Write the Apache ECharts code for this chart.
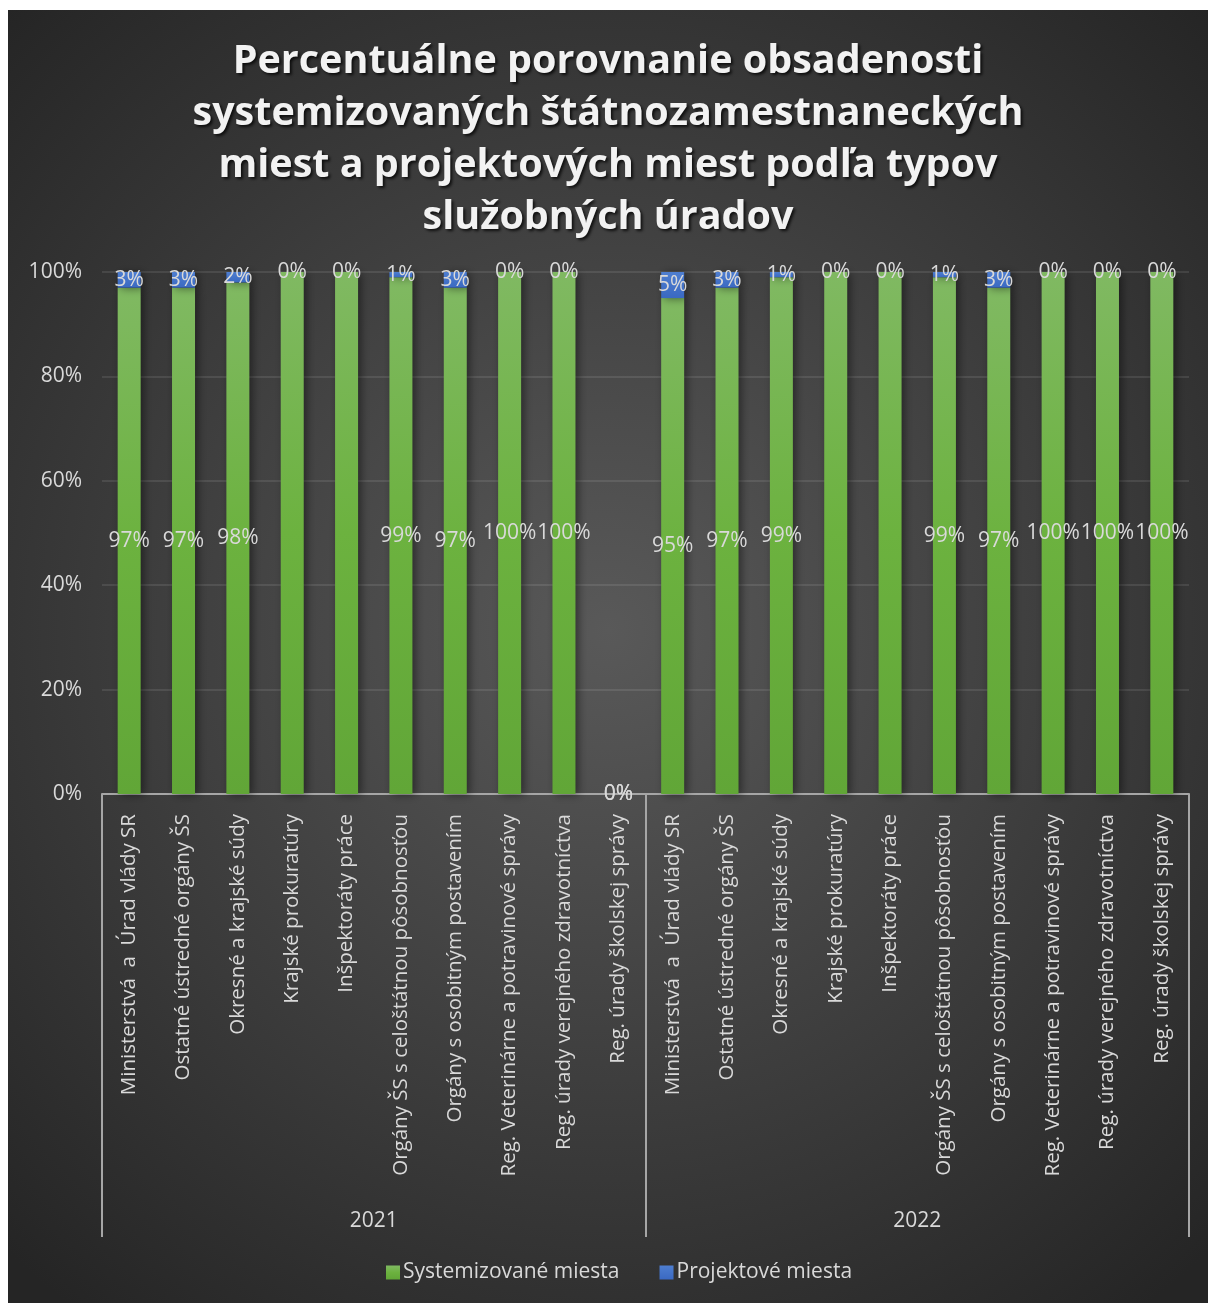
<!DOCTYPE html>
<html lang="sk">
<head>
<meta charset="utf-8">
<title>Obsadenosť miest podľa typov služobných úradov</title>
<script src="https://cdn.jsdelivr.net/npm/echarts@6/dist/echarts.min.js"></script>
<style>
  html, body { margin: 0; padding: 0; background: #ffffff; }
  #chart { position: absolute; left: 8px; top: 10px; width: 1200px; height: 1293px; }
</style>
</head>
<body>
<div id="chart"></div>
<script>
// Office types (same list for each year)
const officeTypes = [
  'Ministerstvá  a  Úrad vlády SR',
  'Ostatné ústredné orgány ŠS',
  'Okresné a krajské súdy',
  'Krajské prokuratúry',
  'Inšpektoráty práce',
  'Orgány ŠS s celoštátnou pôsobnosťou',
  'Orgány s osobitným postavením',
  'Reg. Veterinárne a potravinové správy',
  'Reg. úrady verejného zdravotníctva',
  'Reg. úrady školskej správy'
];
const years = ['2021', '2022'];

// Share of positions in %, per office type
const systemized2021 = [97, 97, 98, 100, 100, 99, 97, 100, 100, 0];
const project2021    = [3, 3, 2, 0, 0, 1, 3, 0, 0, 0];
const systemized2022 = [95, 97, 99, 100, 100, 99, 97, 100, 100, 100];
const project2022    = [5, 3, 1, 0, 0, 1, 3, 0, 0, 0];

// Office types whose systemized share carries no data label
const unlabeledSystemized = ['Krajské prokuratúry', 'Inšpektoráty práce'];

const yTicks = [0, 20, 40, 60, 80, 100];

const categories = years.flatMap(() => officeTypes);
const systemized = systemized2021.concat(systemized2022);
const project = project2021.concat(project2022);

const font = "'Open Sans', 'Noto Sans', sans-serif";
const labelColor = '#d9d9d9';

const systemizedData = systemized.map((v, i) => (
  unlabeledSystemized.includes(categories[i]) ? { value: v, label: { show: false } } : v
));

const barShadow = {
  shadowColor: 'rgba(0,0,0,0.45)',
  shadowBlur: 9,
  shadowOffsetX: 3,
  shadowOffsetY: 1
};

const chart = echarts.init(document.getElementById('chart'));
chart.setOption({
  backgroundColor: {
    type: 'radial', x: 0.5, y: 0.48, r: 0.72,
    colorStops: [
      { offset: 0, color: '#595959' },
      { offset: 1, color: '#252525' }
    ]
  },
  textStyle: { fontFamily: font },
  title: {
    text: 'Percentuálne porovnanie obsadenosti\nsystemizovaných štátnozamestnaneckých\nmiest a projektových miest podľa typov\nslužobných úradov',
    left: 'center',
    top: 21,
    textStyle: {
      fontFamily: font,
      fontSize: 39.5,
      fontWeight: 'bold',
      lineHeight: 52,
      color: '#f2f2f2',
      align: 'center',
      textShadowColor: 'rgba(0,0,0,0.75)',
      textShadowBlur: 3,
      textShadowOffsetX: 2,
      textShadowOffsetY: 2
    }
  },
  legend: {
    bottom: 15,
    left: 373,
    itemWidth: 14,
    itemHeight: 14,
    itemGap: 40,
    icon: 'rect',
    textStyle: { color: labelColor, fontSize: 21, fontFamily: font, padding: [0, 0, 0, -2] },
    data: ['Systemizované miesta', 'Projektové miesta']
  },
  grid: { left: 94, right: 19, top: 262, bottom: 509, containLabel: false },
  xAxis: [
    {
      type: 'category',
      data: categories,
      axisLine: { show: true, lineStyle: { color: '#a6a6a6', width: 2 } },
      axisTick: { show: false },
      axisLabel: {
        interval: 0,
        rotate: 90,
        margin: 20,
        color: labelColor,
        fontSize: 20.5,
        fontFamily: font
      }
    },
    {
      type: 'category',
      data: years,
      position: 'bottom',
      axisLine: { show: false },
      axisTick: { show: true, length: 443, lineStyle: { color: '#a6a6a6', width: 2 } },
      axisLabel: { margin: 417, color: labelColor, fontSize: 21, fontFamily: font },
      splitLine: { show: false }
    }
  ],
  yAxis: {
    type: 'value',
    min: yTicks[0],
    max: yTicks[yTicks.length - 1],
    interval: yTicks[1] - yTicks[0],
    axisLine: { show: false },
    axisTick: { show: false },
    axisLabel: { formatter: '{value}%', color: labelColor, fontSize: 21, margin: 20, fontFamily: font },
    splitLine: { lineStyle: { color: 'rgba(255,255,255,0.13)', width: 1.5 } }
  },
  series: [
    {
      name: 'Systemizované miesta',
      type: 'bar',
      stack: 'share',
      barWidth: 23,
      data: systemizedData,
      itemStyle: Object.assign({
        color: {
          type: 'linear', x: 0, y: 0, x2: 0, y2: 1,
          colorStops: [
            { offset: 0, color: '#80b962' },
            { offset: 0.5, color: '#6cb23f' },
            { offset: 1, color: '#61a637' }
          ]
        }
      }, barShadow),
      label: {
        show: true,
        position: 'inside',
        formatter: '{c}%',
        color: labelColor,
        fontSize: 21,
        fontFamily: font
      },
      z: 2
    },
    {
      name: 'Projektové miesta',
      type: 'bar',
      stack: 'share',
      barWidth: 23,
      data: project,
      itemStyle: Object.assign({
        color: {
          type: 'linear', x: 0, y: 0, x2: 0, y2: 1,
          colorStops: [
            { offset: 0, color: '#4e7ed0' },
            { offset: 1, color: '#3a69c2' }
          ]
        }
      }, barShadow),
      label: {
        show: true,
        position: 'inside',
        formatter: '{c}%',
        color: labelColor,
        fontSize: 21,
        fontFamily: font
      },
      z: 3
    }
  ]
});
</script>
</body>
</html>
